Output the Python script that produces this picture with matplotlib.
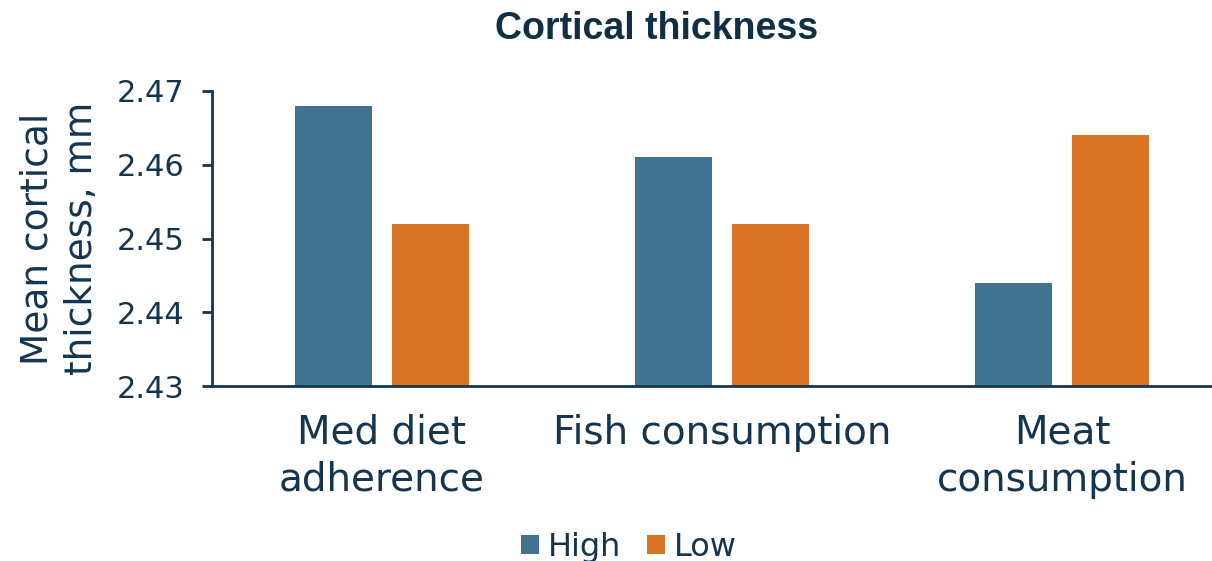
import matplotlib.pyplot as plt
import numpy as np

categories = ['Med diet\nadherence', 'Fish consumption', 'Meat\nconsumption']
high = [2.468, 2.461, 2.444]
low = [2.452, 2.452, 2.464]
yticks = [2.43, 2.44, 2.45, 2.46, 2.47]

navy = '#143550'
blue = '#41728F'
orange = '#D97427'

plt.rcParams['font.family'] = ['DejaVu Sans']

fig = plt.figure(figsize=(12.12, 5.61), dpi=100)
ax = fig.add_axes([212 / 1212, 1 - 386 / 561, 1020 / 1212, 295 / 561])

x = np.arange(len(categories))
w = 0.226
ax.bar(x - 0.142, high, w, color=blue, label='High', zorder=2)
ax.bar(x + 0.142, low, w, color=orange, label='Low', zorder=2)

ax.set_ylim(2.43, 2.47)
ax.set_xlim(-0.5, 2.5)
ax.set_yticks(yticks)
ax.set_yticklabels([f'{v:.2f}' for v in yticks], fontsize=22, color=navy)
ax.set_xticks(x)
ax.set_xticklabels(categories, fontsize=28, color=navy, linespacing=1.3)
ax.tick_params(axis='x', length=0, pad=20)
ax.tick_params(axis='y', length=7, width=2, color=navy, pad=13)

for side in ['top', 'right']:
    ax.spines[side].set_visible(False)
for side in ['left', 'bottom']:
    ax.spines[side].set_color(navy)
    ax.spines[side].set_linewidth(2)
    ax.spines[side].set_zorder(3)

ax.set_ylabel('Mean cortical\nthickness, mm', fontsize=27, color=navy, linespacing=1.3)
ax.yaxis.set_label_coords(-0.11, 0.5)

fig.suptitle('Cortical thickness', x=0.542, y=0.98, fontsize=27, fontweight='bold',
             color='#0E2F44', family='Liberation Sans')

fig.legend(loc='lower center', bbox_to_anchor=(0.519, -0.055), ncol=2, frameon=False,
           fontsize=23, handlelength=0.55, handleheight=0.55, handletextpad=0.3,
           columnspacing=0.8, labelcolor=navy)

fig.savefig('out.png', dpi=100)
